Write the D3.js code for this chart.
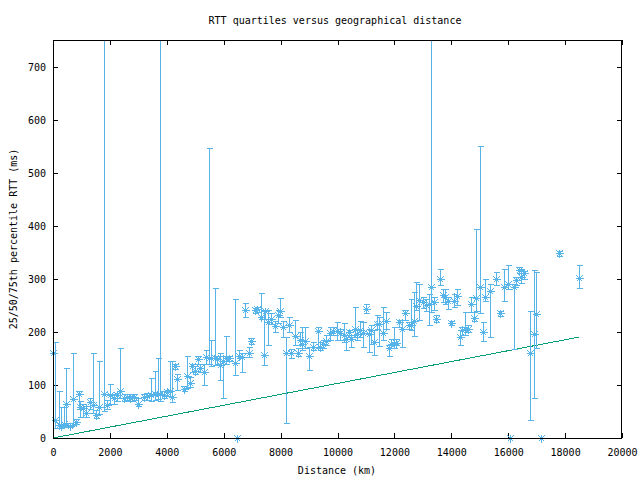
<!DOCTYPE html>
<html><head><meta charset="utf-8">
<script src="https://cdn.jsdelivr.net/npm/d3@7"></script>
<style>
body{margin:0;background:#fff}
svg{display:block}
text{font-family:"DejaVu Sans Mono","Liberation Mono",monospace;font-size:10px;fill:#000}
</style>
</head><body>
<svg id="c" width="640" height="480"></svg>
<script>
const distance = [0,81,197,292,373,467,584,689,808,914,960,1040,1170,1287,1392,1522,1603,1779,1898,1990,2130,2250,2366,2482,2601,2717,2833,2974,3185,
3304,3455,3596,3690,3771,3888,4007,4123,4183,4274,4369,4591,4710,4801,4886,4977,5083,5177,5294,5389,5469,5564,5680,5765,5881,5976,6091,6172,6383,6478,6548,
6643,6759,6875,6970,7086,7171,7311,7403,7462,7557,7673,7789,7895,7990,8084,8190,8282,8376,8517,8598,8693,8752,8868,8984,9139,9301,9371,9491,9582,9723,9842,
9983,10099,10215,10299,10415,10485,10601,10686,10777,10883,10988,11094,11188,11283,11389,11469,11586,11705,11797,11891,11972,12056,12172,12267,12383,12499,12594,12689,12770,12875,12991,13111,13202,
13297,13378,13473,13589,13709,13789,13870,13990,14081,14201,14292,14387,14468,14573,14693,14784,14879,14995,15101,15171,15371,15582,15698,15863,15980,16074,16190,16285,16366,16450,16542,
16777,16893,16988,17164,17772,18475];
const median = [160,34,24,23,26,64,23,73,30,82,58,56,47,68,63,43,58,83,62,81,75,81,88,75,77,75,77,64,77,
79,81,83,83,83,81,87,89,77,135,111,92,117,104,135,126,149,132,124,153,150,150,150,148,137,145,150,150,142,0,154,
153,241,160,183,241,243,228,156,239,218,224,211,231,239,209,160,213,160,192,160,184,178,183,154,171,201,171,177,183,198,201,
202,197,194,186,200,186,206,196,203,197,243,196,203,180,215,215,197,221,169,178,177,179,219,206,236,213,213,220,248,260,257,250,253,
284,257,225,300,269,266,258,216,258,268,190,203,205,206,252,227,263,284,200,266,277,299,235,285,291,0,285,297,316,304,310,
161,196,233,0,348,301];
const q1 = [160,19,19,20,20,25,20,25,27,55,40,40,40,55,48,38,45,50,55,65,65,70,75,70,72,70,72,60,72,
72,70,72,74,70,75,80,80,68,130,90,88,95,96,125,120,140,125,100,140,140,135,138,140,110,75,140,145,119,0,150,
124,228,152,177,236,238,224,137,224,175,215,200,216,228,190,28,200,150,175,155,175,165,170,128,165,169,165,170,175,185,195,
184,185,180,166,190,171,191,185,191,171,235,162,178,156,205,173,185,205,154,169,170,175,210,171,222,205,203,192,241,222,245,240,213,
238,241,218,288,256,252,244,212,246,250,175,195,195,200,237,220,240,235,183,258,191,288,230,258,280,0,168,288,311,292,300,
34,75,169,0,343,282];
const q3 = [160,180,88,58,58,131,28,161,35,89,70,65,60,75,160,52,145,1500,72,101,82,85,169,82,82,80,82,75,82,
85,113,126,150,1500,88,90,145,145,140,120,98,154,115,140,135,155,140,140,165,546,184,282,155,160,155,192,155,262,0,165,
160,254,172,188,245,246,273,241,242,242,235,220,242,263,220,190,228,167,222,170,200,210,210,172,180,210,180,185,195,210,210,
219,205,216,195,203,195,246,205,221,219,252,206,213,203,231,228,247,238,175,186,210,186,222,222,242,219,261,275,294,291,265,262,272,
1500,265,232,319,280,280,266,220,272,280,203,210,237,212,265,237,394,551,219,300,291,313,240,319,326,0,291,304,322,318,315,
240,317,312,0,353,326];
const boundX = [0, 18475];
const boundY = [0, 190];
const xTicks = [0,2000,4000,6000,8000,10000,12000,14000,16000,18000,20000];
const yTicks = [0,100,200,300,400,500,600,700];
const title = "RTT quartiles versus geographical distance";
const xLabel = "Distance (km)";
const yLabel = "25/50/75th percentile RTT (ms)";

const BLUE = "#56b4e9", GREEN = "#009e73";
const L = 53, R = 622, T = 40, B = 438;
const svg = d3.select("#c");
const x = d3.scaleLinear().domain([0, 20000]).range([L, R]);
const y = d3.scaleLinear().domain([0, 750]).range([B, T]);

svg.append("defs").append("clipPath").attr("id","clip")
  .append("rect").attr("x", L).attr("y", T).attr("width", R - L).attr("height", B - T);

const tl = 5;
const ax = svg.append("g").attr("shape-rendering","crispEdges");
const xb = d3.axisBottom(x).tickValues(xTicks).tickSize(-tl).tickPadding(0).tickFormat(d3.format("d"));
const xt = d3.axisTop(x).tickValues(xTicks).tickSize(-tl).tickFormat("");
const yl = d3.axisLeft(y).tickValues(yTicks).tickSize(-tl).tickFormat(d3.format("d"));
const yr = d3.axisRight(y).tickValues(yTicks).tickSize(-tl).tickFormat("");
function style(g){ g.select(".domain").remove(); g.selectAll("line").attr("stroke","#000"); g.selectAll("text").attr("font-family",null).attr("font-size",null); }
ax.append("g").attr("transform",`translate(0,${B})`).call(xb).call(style)
  .selectAll("text").attr("dy",null).attr("y",18);
ax.append("g").attr("transform",`translate(0,${T})`).call(xt).call(style);
ax.append("g").attr("transform",`translate(${L},0)`).call(yl).call(style)
  .selectAll("text").attr("x",-7).attr("dy","0.35em");
ax.append("g").attr("transform",`translate(${R},0)`).call(yr).call(style);

const data = distance.map((d,i)=>({d, m: median[i], lo: q1[i], hi: q3[i]}));

svg.append("line")
  .attr("x1", x(boundX[0])).attr("y1", y(boundY[0]))
  .attr("x2", x(boundX[1])).attr("y2", y(boundY[1]))
  .attr("stroke", GREEN).attr("stroke-width",1).attr("shape-rendering","crispEdges");

const eb = svg.append("g").attr("clip-path","url(#clip)").attr("stroke",BLUE).attr("stroke-width",1).attr("shape-rendering","crispEdges");
const cw = 3;
data.filter(p => p.hi > p.lo).forEach(p => {
  const cx = Math.round(x(p.d)) + 0.5;
  eb.append("line").attr("x1",cx).attr("x2",cx).attr("y1",y(p.lo)).attr("y2",y(p.hi));
  eb.append("line").attr("x1",cx-cw).attr("x2",cx+cw).attr("y1",Math.round(y(p.lo))+0.5).attr("y2",Math.round(y(p.lo))+0.5);
  eb.append("line").attr("x1",cx-cw).attr("x2",cx+cw).attr("y1",Math.round(y(p.hi))+0.5).attr("y2",Math.round(y(p.hi))+0.5);
});

const s = 4, sd = 3;
const pts = svg.append("g").attr("stroke",BLUE).attr("stroke-width",1).attr("fill","none").attr("shape-rendering","crispEdges");
data.forEach(p => {
  const cx = Math.round(x(p.d)) + 0.5, cy = Math.round(y(p.m)) + 0.5;
  pts.append("path").attr("d",
    `M${cx-s},${cy}H${cx+s}M${cx},${cy-s}V${cy+s}M${cx-sd},${cy-sd}L${cx+sd},${cy+sd}M${cx-sd},${cy+sd}L${cx+sd},${cy-sd}`);
});

svg.append("rect").attr("x",L+0.5).attr("y",T+0.5).attr("width",R-L-1).attr("height",B-T)
  .attr("fill","none").attr("stroke","#000").attr("shape-rendering","crispEdges");

svg.append("text").attr("x",335).attr("y",24).attr("text-anchor","middle").text(title);
svg.append("text").attr("x",337).attr("y",474).attr("text-anchor","middle").text(xLabel);
svg.append("text").attr("transform","translate(17,239) rotate(-90)").attr("text-anchor","middle").text(yLabel);
</script>
</body></html>
